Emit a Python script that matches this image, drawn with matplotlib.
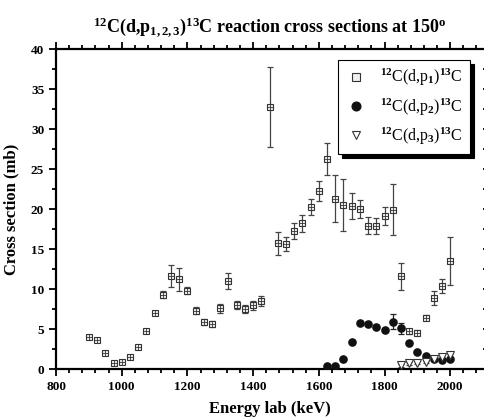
import numpy as np
import matplotlib
matplotlib.use("Agg")
import matplotlib.pyplot as plt
from matplotlib.ticker import MultipleLocator

plt.rcParams['font.family'] = ['Liberation Serif', 'DejaVu Serif']
plt.rcParams['mathtext.fontset'] = 'custom'
plt.rcParams['mathtext.rm'] = 'Liberation Serif:bold'
plt.rcParams['mathtext.it'] = 'Liberation Serif:bold'
plt.rcParams['mathtext.bf'] = 'Liberation Serif:bold'

# p1 data
e1 = [900, 925, 950, 975, 1000, 1025, 1050, 1075, 1100, 1125, 1150, 1175, 1200,
      1225, 1250, 1275, 1300, 1325, 1350, 1375, 1400, 1425, 1450, 1475, 1500,
      1525, 1550, 1575, 1600, 1625, 1650, 1675, 1700, 1725, 1750, 1775, 1800,
      1825, 1850, 1875, 1900, 1925, 1950, 1975, 2000]
y1 = [3.95, 3.6, 2.0, 0.7, 0.9, 1.5, 2.7, 4.75, 7.0, 9.3, 11.6, 11.2, 9.8,
      7.3, 5.9, 5.65, 7.6, 11.0, 8.0, 7.5, 7.95, 8.5, 32.7, 15.7, 15.6,
      17.25, 18.2, 20.2, 22.25, 26.2, 21.3, 20.5, 20.4, 20.0, 17.9, 17.9, 19.1,
      19.9, 11.6, 4.7, 4.55, 6.4, 8.9, 10.4, 13.5]
err1 = [0.2, 0.2, 0.15, 0.1, 0.1, 0.15, 0.2, 0.3, 0.3, 0.4, 1.35, 1.45, 0.45,
        0.45, 0.35, 0.35, 0.55, 1.0, 0.55, 0.55, 0.55, 0.65, 5.0, 1.4, 0.9,
        1.0, 1.05, 1.0, 1.25, 2.0, 2.9, 3.2, 1.6, 1.1, 1.05, 1.0, 1.1,
        3.2, 1.7, 0.3, 0.3, 0.3, 0.85, 0.9, 3.0]

# p2 data
e2 = [1625, 1650, 1675, 1700, 1725, 1750, 1775, 1800, 1825, 1850, 1875, 1900,
      1925, 1950, 1975, 2000]
y2 = [0.4, 0.4, 1.2, 3.4, 5.75, 5.6, 5.2, 4.9, 5.9, 5.1, 3.25, 2.1, 1.6, 1.2,
      1.1, 1.3]
err2 = [0.1, 0.1, 0.15, 0.2, 0.25, 0.25, 0.25, 0.25, 0.95, 0.7, 0.2, 0.15,
        0.1, 0.1, 0.1, 0.1]

# p3 data
e3 = [1850, 1875, 1900, 1925, 1950, 1975, 2000]
y3 = [0.45, 0.7, 0.8, 0.9, 1.2, 1.5, 1.7]
err3 = [0.15, 0.15, 0.15, 0.15, 0.15, 0.2, 0.2]

fig = plt.figure(figsize=(4.85, 4.2), dpi=100)
ax = fig.add_axes([0.1155, 0.1214, 0.8805, 0.7619])

ax.errorbar(e1, y1, yerr=err1, fmt='none', ecolor='#444444', elinewidth=0.9,
            capsize=2.5, capthick=0.9, zorder=2)
ax.plot(e1, y1, 's', ms=4.6, mfc='#eeeeee', mec='#333333', mew=0.8, ls='none', zorder=3,
        label=r'$^{12}$C(d,p$_1$)$^{13}$C')
ax.plot(e1, y1, '+', ms=4.6, color='#333333', mew=0.6, ls='none', zorder=4)

ax.errorbar(e2, y2, yerr=err2, fmt='none', ecolor='#222222', elinewidth=0.9,
            capsize=2.5, capthick=0.9, zorder=2)
ax.plot(e2, y2, 'o', ms=5.2, color='#111111', ls='none', zorder=3,
        label=r'$^{12}$C(d,p$_2$)$^{13}$C')

ax.errorbar(e3, y3, yerr=err3, fmt='none', ecolor='#444444', elinewidth=0.9,
            capsize=2.5, capthick=0.9, zorder=2)
ax.plot(e3, y3, 'v', ms=5.2, mfc='white', mec='#333333', mew=0.8, ls='none', zorder=3,
        label=r'$^{12}$C(d,p$_3$)$^{13}$C')

ax.set_xlim(800, 2100)
ax.set_ylim(0, 40)
ax.xaxis.set_major_locator(MultipleLocator(200))
ax.xaxis.set_minor_locator(MultipleLocator(40))
ax.yaxis.set_major_locator(MultipleLocator(5))
ax.yaxis.set_minor_locator(MultipleLocator(2.5))

ax.spines['right'].set_visible(False)
for s in ['left', 'top', 'bottom']:
    ax.spines[s].set_linewidth(1.6)

ax.tick_params(axis='both', which='both', top=True, right=True, width=1.3)
ax.tick_params(axis='x', which='major', direction='out', length=5, labelsize=9.5)
ax.tick_params(axis='x', which='minor', direction='out', length=3)
ax.tick_params(axis='y', which='major', direction='out', length=5, labelsize=9.5)
ax.tick_params(axis='y', which='minor', direction='out', length=3)
for lbl in ax.get_xticklabels() + ax.get_yticklabels():
    lbl.set_fontweight('bold')

ax.set_xlabel('Energy lab (keV)', fontsize=12, fontweight='bold', labelpad=6)
ax.set_ylabel('Cross section (mb)', fontsize=12, fontweight='bold', labelpad=8)
ax.set_title(r'$^{12}$C(d,p$_{1,2,3}$)$^{13}$C reaction cross sections at 150$^{\rm o}$',
             fontsize=13, fontweight='bold', pad=12)

leg = ax.legend(loc='upper right', bbox_to_anchor=(0.97, 0.966), borderaxespad=0,
                fontsize=11.5,
                frameon=True, fancybox=False, edgecolor='black', framealpha=1,
                shadow={'color': 'black', 'alpha': 1, 'ox': 3, 'oy': -3},
                handletextpad=0.8, borderpad=0.45, labelspacing=0.5, handlelength=1.4,
                markerscale=1.2)
leg.get_frame().set_linewidth(0.8)

fig.savefig('out.png', dpi=100)
